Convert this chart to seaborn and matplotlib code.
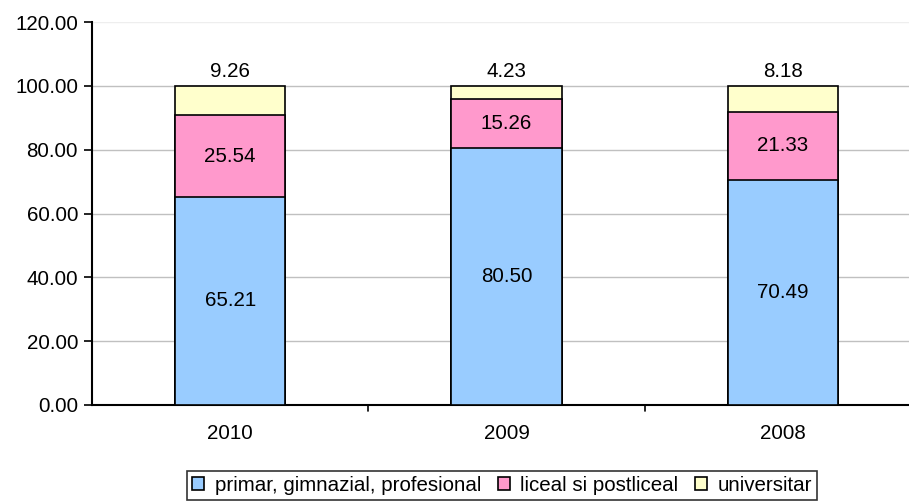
import matplotlib
matplotlib.use("Agg")
import matplotlib.pyplot as plt
import seaborn as sns
import pandas as pd
from matplotlib.patches import Patch

years = ["2010", "2009", "2008"]
primar = [65.21, 80.50, 70.49]
liceal = [25.54, 15.26, 21.33]
universitar = [9.26, 4.23, 8.18]
series_names = ["primar, gimnazial, profesional", "liceal si postliceal", "universitar"]
colors = ["#99CCFF", "#FF99CC", "#FFFFCC"]

df = pd.DataFrame({"year": years, "primar": primar, "liceal": liceal, "univ": universitar})
df["c1"] = df["primar"]
df["c2"] = df["primar"] + df["liceal"]
df["c3"] = df["c2"] + df["univ"]

sns.set_style("white")
plt.rcParams["font.family"] = ["Liberation Sans", "DejaVu Sans"]
plt.rcParams["text.color"] = "black"
plt.rcParams["xtick.color"] = "black"
plt.rcParams["ytick.color"] = "black"
fs = 14.8

fig = plt.figure(figsize=(9.09, 5.01), dpi=100)
ax = fig.add_axes([92 / 909, 1 - 405 / 501, (921 - 92) / 909, (405 - 22) / 501])

# cumulative totals drawn back to front
for col, c in zip(["c3", "c2", "c1"], colors[::-1]):
    sns.barplot(data=df, x="year", y=col, color=c, width=0.4, edgecolor="black",
                linewidth=1.2, saturation=1, ax=ax, zorder=3)

for i in range(len(years)):
    ax.text(i, df["c1"][i] / 2, f"{primar[i]:.2f}", ha="center", va="center", fontsize=fs, zorder=5)
    ax.text(i, df["c1"][i] + liceal[i] / 2, f"{liceal[i]:.2f}", ha="center", va="center", fontsize=fs, zorder=5)
    ax.text(i, df["c3"][i] + 1.5, f"{universitar[i]:.2f}", ha="center", va="bottom", fontsize=fs, zorder=5)

ax.set_ylim(0, 120)
ax.set_xlim(-0.5, 2.5)
ax.set_yticks(range(0, 121, 20))
ax.set_yticklabels([f"{v:.2f}" for v in range(0, 121, 20)], fontsize=fs)
ax.set_xticks([0, 1, 2])
ax.set_xticklabels(years, fontsize=fs)
ax.tick_params(axis="x", length=0, pad=14)
ax.tick_params(axis="y", length=6, width=1.2, direction="out", left=True, pad=4)
for b in [0.5, 1.5]:
    ax.plot([b, b], [0, -1.8], color="black", lw=1.2, clip_on=False)
ax.set_xlabel("")
ax.set_ylabel("")

for v in range(20, 121, 20):
    ax.axhline(v, color="#c0c0c0" if v < 120 else "#eeeeee", lw=1, zorder=1)

for s in ["top", "right"]:
    ax.spines[s].set_visible(False)
ax.spines["left"].set_linewidth(1.5)
ax.spines["bottom"].set_linewidth(1.5)
ax.spines["left"].set_color("black")
ax.spines["bottom"].set_color("black")

handles = [Patch(facecolor=c, edgecolor="black", linewidth=1.2) for c in colors]
leg = fig.legend(handles, series_names, loc="upper center", bbox_to_anchor=(502 / 909, 1 - 471 / 501),
                 ncol=3, frameon=True, fancybox=False, fontsize=fs, handlelength=0.6,
                 handleheight=0.6, handletextpad=0.5, columnspacing=0.8,
                 borderpad=0.25, borderaxespad=0)
leg.get_frame().set_edgecolor("black")
leg.get_frame().set_linewidth(1.2)

fig.savefig("out.png", dpi=100)
